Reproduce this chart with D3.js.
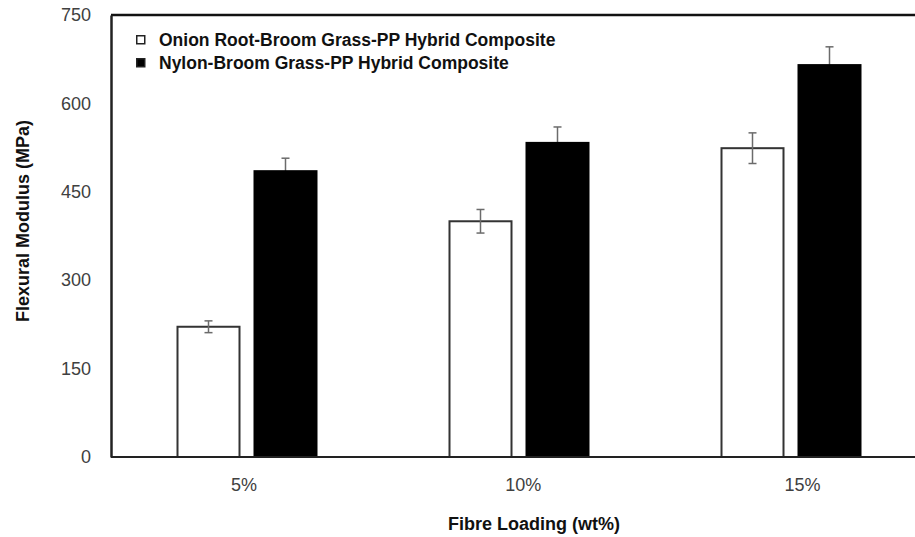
<!DOCTYPE html>
<html>
<head>
<meta charset="utf-8">
<script src="https://cdn.jsdelivr.net/npm/d3@7"></script>
<style>
  body { margin: 0; background: #fff; }
  text { font-family: Arial, "Liberation Sans", sans-serif; }
</style>
</head>
<body>
<div id="app"></div>
<script>
// data
const categories = ['5%', '10%', '15%'];
const seriesNames = ['Onion Root-Broom Grass-PP Hybrid Composite', 'Nylon-Broom Grass-PP Hybrid Composite'];
const onionValues = [221, 400, 524];
const onionErrors = [10, 20, 26];
const nylonValues = [485, 533, 665];
const nylonErrors = [22, 27, 31];
const yTicks = [0, 150, 300, 450, 600, 750];

const seriesFill = ['#fff', '#000'];

const wrapper = { width: 915, height: 537 };
const plot = { left: 111, top: 15, bottom: 457, right: 927 };

const svg = d3.select('#app')
  .append('svg')
    .attr('width', wrapper.width)
    .attr('height', wrapper.height);

const x0 = d3.scaleBand()
  .domain(categories)
  .range([plot.left, plot.right])
  .padding(0);

const x1 = d3.scaleBand()
  .domain([0, 1])
  .range([0, x0.bandwidth()])
  .paddingInner(15 / 77)
  .paddingOuter(66.5 / 77);

// category labels in the original sit on a slightly wider spacing than the bars
const xLabel = d3.scalePoint()
  .domain(categories)
  .range([243.5, 802]);

const y = d3.scaleLinear()
  .domain([0, 750])
  .range([plot.bottom, plot.top]);

const rows = [];
categories.forEach((c, i) => {
  rows.push({ cat: c, s: 0, v: onionValues[i], e: onionErrors[i] });
  rows.push({ cat: c, s: 1, v: nylonValues[i], e: nylonErrors[i] });
});

function drawErrors(g, data) {
  const eb = g.selectAll('g.err')
    .data(data)
    .join('g')
      .attr('class', 'err')
      .attr('transform', d => `translate(${x0(d.cat) + x1(d.s) + x1.bandwidth() / 2},0)`)
      .attr('stroke', '#6b6b6b')
      .attr('stroke-width', 1.5);
  eb.append('line')
    .attr('y1', d => y(d.v + d.e))
    .attr('y2', d => y(d.v - d.e));
  eb.append('line')
    .attr('x1', -4).attr('x2', 4)
    .attr('y1', d => y(d.v + d.e)).attr('y2', d => y(d.v + d.e));
  eb.append('line')
    .attr('x1', -4).attr('x2', 4)
    .attr('y1', d => y(d.v - d.e)).attr('y2', d => y(d.v - d.e));
}

// error bars of the black series sit behind their bars
drawErrors(svg.append('g'), rows.filter(d => d.s === 1));

svg.append('g')
  .selectAll('rect')
  .data(rows)
  .join('rect')
    .attr('x', d => x0(d.cat) + x1(d.s))
    .attr('y', d => y(d.v))
    .attr('width', x1.bandwidth())
    .attr('height', d => y(0) - y(d.v))
    .attr('fill', d => seriesFill[d.s])
    .attr('stroke', d => d.s === 0 ? '#333' : '#000')
    .attr('stroke-width', 2);

drawErrors(svg.append('g'), rows.filter(d => d.s === 0));

// frame
svg.append('line')
  .attr('x1', plot.left).attr('x2', wrapper.width)
  .attr('y1', plot.top).attr('y2', plot.top)
  .attr('stroke', '#111').attr('stroke-width', 2.5);

// axes
const yAxis = svg.append('g')
  .attr('transform', `translate(${plot.left},0)`)
  .call(d3.axisLeft(y).tickValues(yTicks).tickSize(0).tickPadding(20));
yAxis.select('.domain').attr('stroke', '#222').attr('stroke-width', 2.5);
yAxis.selectAll('text')
  .attr('fill', '#404040')
  .style('font-size', '18px');

const xAxis = svg.append('g')
  .attr('transform', `translate(0,${plot.bottom})`)
  .call(d3.axisBottom(xLabel).tickSize(0).tickPadding(21));
xAxis.select('.domain').attr('stroke', '#222').attr('stroke-width', 2)
  .attr('d', `M${plot.left},0H${wrapper.width}`);
xAxis.selectAll('text')
  .attr('fill', '#404040')
  .style('font-size', '18px');

// axis titles
svg.append('text')
  .attr('x', 534)
  .attr('y', 530)
  .attr('text-anchor', 'middle')
  .style('font-size', '18px')
  .style('font-weight', 'bold')
  .attr('fill', '#111')
  .text('Fibre Loading (wt%)');

svg.append('text')
  .attr('transform', 'translate(29,221) rotate(-90)')
  .attr('text-anchor', 'middle')
  .style('font-size', '18px')
  .style('font-weight', 'bold')
  .attr('fill', '#111')
  .text('Flexural Modulus (MPa)');

// legend
const legend = svg.append('g')
  .selectAll('g')
  .data(seriesNames)
  .join('g')
    .attr('transform', (d, i) => `translate(136,${40 + i * 23})`);
legend.append('rect')
  .attr('x', 0.75).attr('y', -4.25)
  .attr('width', 8).attr('height', 8)
  .attr('fill', (d, i) => seriesFill[i])
  .attr('stroke', '#222')
  .attr('stroke-width', 1.5);
legend.append('text')
  .attr('x', 23)
  .attr('y', 0)
  .attr('dy', '0.35em')
  .style('font-size', '17.5px')
  .style('font-weight', 'bold')
  .attr('fill', '#111')
  .text(d => d);
</script>
</body>
</html>
